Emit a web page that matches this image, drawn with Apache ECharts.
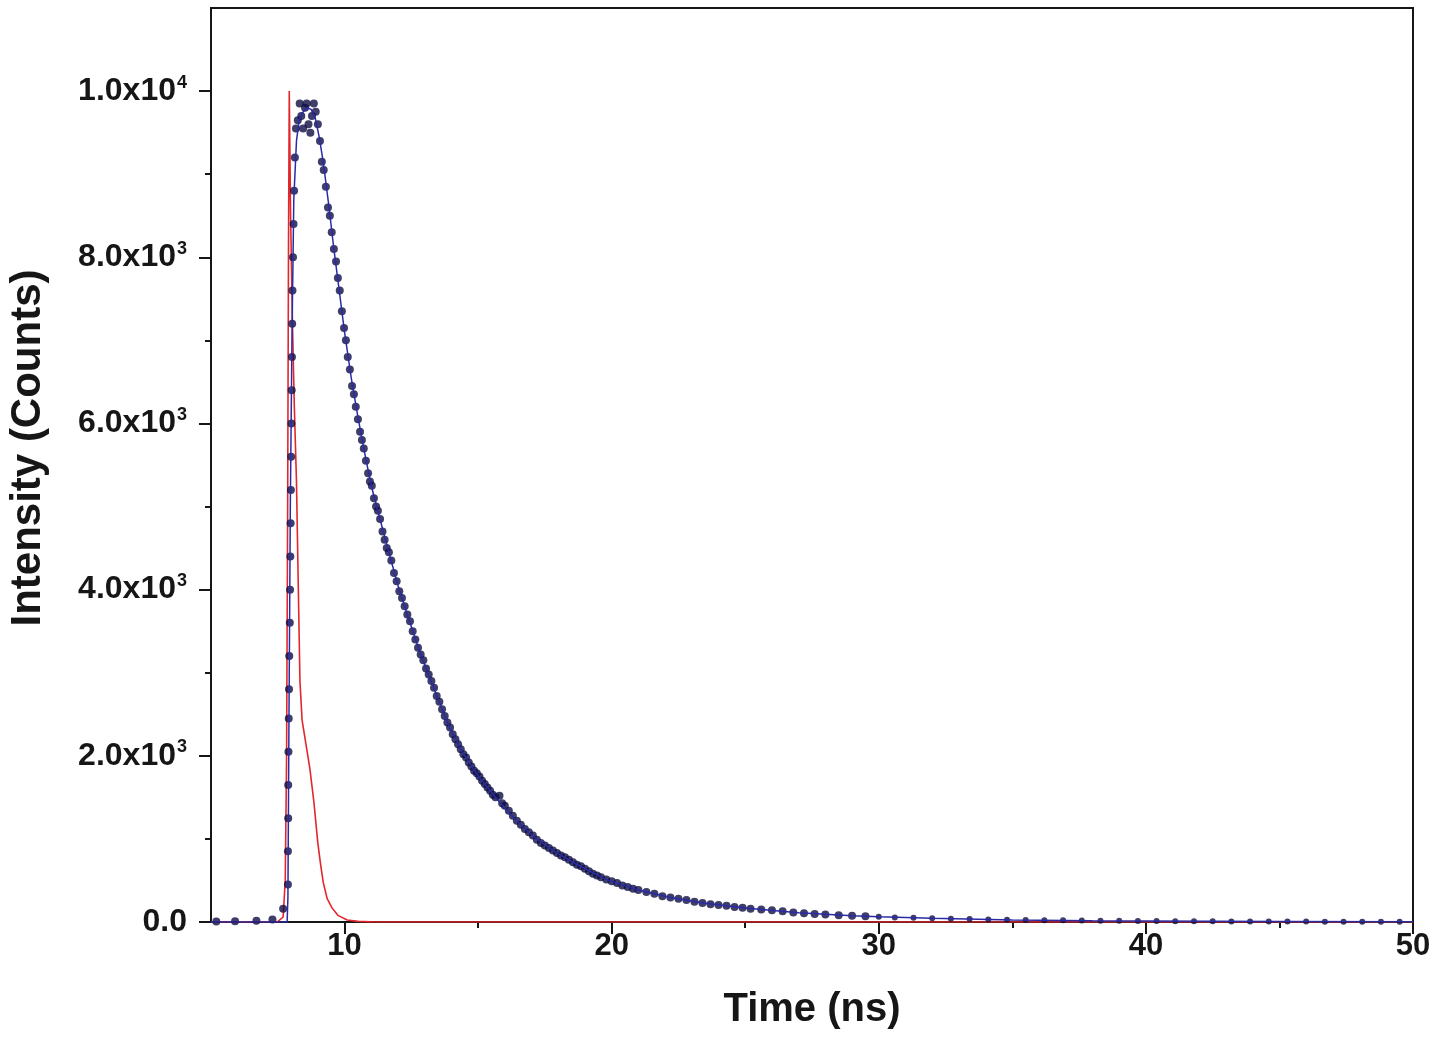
<!DOCTYPE html>
<html>
<head>
<meta charset="utf-8">
<script src="https://cdn.jsdelivr.net/npm/echarts@6/dist/echarts.min.js"></script>
<style>
  html, body { margin: 0; padding: 0; background: #fff; }
  #decay { width: 1437px; height: 1040px; }
</style>
</head>
<body>
<div id="decay"></div>
<script>
// measured decay (dots)
var dotTime = [5.2, 5.9, 6.7, 7.3, 7.7,
  7.88, 7.88, 7.89, 7.89, 7.9, 7.91, 7.92, 7.93, 7.95, 7.96, 7.97, 7.98, 7.99, 8.0, 8.01, 8.02, 8.03, 8.04, 8.05, 8.07, 8.09, 8.11, 8.14, 8.18,
  8.25, 8.32, 8.38, 8.45, 8.52, 8.58, 8.65, 8.72, 8.78, 8.85, 8.92, 9.0, 9.08, 9.15, 9.22, 9.3, 9.38, 9.45, 9.52, 9.6,
  9.68, 9.75, 9.82, 9.9, 9.98, 10.05, 10.12, 10.2, 10.28, 10.35, 10.42, 10.5, 10.58, 10.65, 10.72, 10.8, 10.88, 10.95,
  11.02, 11.1, 11.18, 11.25, 11.33, 11.42, 11.5, 11.58, 11.66, 11.75, 11.85, 11.95, 12.05, 12.15, 12.25, 12.35, 12.45,
  12.55, 12.65, 12.75, 12.85, 12.95, 13.05, 13.15, 13.25, 13.35, 13.45, 13.55, 13.65, 13.75, 13.85, 13.95, 14.05, 14.15,
  14.25, 14.35, 14.45, 14.55, 14.65, 14.75, 14.85, 14.95, 15.05, 15.15, 15.25, 15.35, 15.45, 15.55, 15.65, 15.8, 15.9,
  16.0, 16.15, 16.3, 16.45, 16.6, 16.75, 16.9, 17.05, 17.2, 17.35, 17.5, 17.65, 17.8, 17.95, 18.1, 18.25, 18.4, 18.55,
  18.7, 18.85, 19.0, 19.15, 19.3, 19.45, 19.6, 19.8, 20.0, 20.2, 20.4, 20.6, 20.8, 21.0, 21.3, 21.6, 21.9, 22.2, 22.5,
  22.8, 23.1, 23.4, 23.7, 24.0, 24.3, 24.6, 24.9, 25.2, 25.6, 26.0, 26.4, 26.8, 27.2, 27.6, 28.0, 28.5, 29.0, 29.5,
  30.0, 30.6, 31.3, 32.0, 32.7, 33.4, 34.1, 34.8, 35.5, 36.2, 36.9, 37.6, 38.3, 39.0, 39.7, 40.4, 41.1, 41.8, 42.5,
  43.2, 43.9, 44.6, 45.3, 46.0, 46.7, 47.4, 48.1, 48.8, 49.5];
var dotCounts = [5, 10, 15, 30, 160,
  450, 850, 1250, 1650, 2050, 2450, 2800, 3200, 3600, 4000, 4400, 4800, 5200, 5600, 6000, 6400, 6800, 7200, 7600, 8000, 8400, 8800, 9200, 9550,
  9650, 9850, 9700, 9550, 9800, 9850, 9600, 9500, 9700, 9850, 9750, 9600, 9400, 9150, 9050, 8850, 8600, 8500, 8300, 8100,
  7950, 7750, 7600, 7350, 7150, 7000, 6800, 6650, 6450, 6350, 6200, 6050, 5900, 5800, 5700, 5550, 5400, 5300,
  5250, 5100, 5000, 4950, 4850, 4700, 4600, 4500, 4450, 4350, 4200, 4100, 3980, 3900, 3800, 3700, 3620,
  3500, 3400, 3300, 3220, 3150, 3050, 2980, 2900, 2820, 2720, 2650, 2560, 2480, 2400, 2340, 2260, 2200,
  2140, 2080, 2020, 1980, 1920, 1870, 1820, 1790, 1750, 1700, 1660, 1620, 1580, 1530, 1500, 1520, 1430,
  1400, 1340, 1280, 1220, 1170, 1120, 1080, 1040, 990, 950, 920, 890, 860, 830, 800, 780, 750, 720,
  690, 670, 640, 610, 580, 560, 540, 510, 490, 470, 440, 420, 400, 385, 360, 340, 310, 295, 280,
  265, 245, 230, 215, 205, 195, 180, 170, 160, 150, 140, 130, 115, 105, 95, 90, 80, 75, 70,
  62, 55, 50, 45, 40, 35, 30, 28, 25, 22, 20, 18, 16, 14, 12, 11, 10, 9, 8,
  7, 6, 6, 5, 5, 4, 4, 3, 3, 3];

// fitted curve (blue)
var fitTime = [5, 7.5, 7.85, 7.88, 7.92, 7.97, 8.03, 8.1, 8.2, 8.3, 8.45, 8.6, 8.75, 8.9, 9.05, 9.2, 9.4, 9.6, 9.8, 10.0,
  10.25, 10.5, 10.75, 11.0, 11.35, 11.7, 12.0, 12.4, 12.85, 13.3, 13.85, 14.4, 15.0, 15.7, 16.4, 17.0, 17.8, 18.6, 19.8,
  21.0, 22.2, 23.5, 25.1, 27, 29, 30, 32, 35, 38, 40, 45, 50];
var fitCounts = [0, 0, 0, 300, 2500, 5000, 7000, 8700, 9400, 9650, 9750, 9800, 9780, 9680, 9450, 9150, 8650, 8100, 7600, 7100,
  6550, 6080, 5650, 5250, 4820, 4400, 4050, 3650, 3220, 2850, 2400, 2050, 1760, 1480, 1230, 1050, 860, 710, 510,
  385, 295, 225, 165, 110, 75, 62, 45, 25, 15, 11, 5, 3];

// instrument response (red)
var irfTime = [5, 7.5, 7.7, 7.78, 7.83, 7.87, 7.9, 7.93, 7.98, 8.05, 8.12, 8.2, 8.27, 8.33, 8.41, 8.55, 8.7, 8.85, 9.0,
  9.1, 9.2, 9.35, 9.53, 9.75, 10.1, 10.5, 11, 50];
var irfCounts = [0, 5, 60, 500, 2000, 5000, 8000, 10000, 8500, 7200, 6200, 5300, 4000, 2900, 2430, 2150, 1850, 1450, 950,
  700, 480, 280, 170, 80, 25, 8, 2, 0];

var xMajor = [10, 20, 30, 40, 50];
var xMinor = [15, 25, 35, 45];
var yMajor = [0, 2000, 4000, 6000, 8000, 10000];
var yMinor = [1000, 3000, 5000, 7000, 9000];
var yLabels = {0: '0.0', 2000: '2.0x10|3', 4000: '4.0x10|3', 6000: '6.0x10|3', 8000: '8.0x10|3', 10000: '1.0x10|4'};

function zip(a, b) {
  return a.map(function (v, i) { return [v, b[i]]; });
}

var FONT = '"Liberation Sans", Arial, sans-serif';
var INK = '#161616';

var chart = echarts.init(document.getElementById('decay'));
chart.setOption({
  animation: false,
  backgroundColor: '#fff',
  grid: { left: 211, right: 24, top: 8, bottom: 118, show: true, borderColor: INK, borderWidth: 2 },
  xAxis: [
    {
      type: 'value', min: 5, max: 50, position: 'bottom',
      axisLine: { lineStyle: { color: INK, width: 2 } },
      axisTick: { customValues: xMajor, length: 12, lineStyle: { color: INK, width: 2 } },
      axisLabel: { customValues: xMajor, margin: 9, fontSize: 31, fontWeight: 'bold', color: INK, fontFamily: FONT },
      splitLine: { show: false },
      name: 'Time (ns)', nameLocation: 'middle', nameGap: 68,
      nameTextStyle: { fontSize: 40, fontWeight: 'bold', color: INK, fontFamily: FONT }
    },
    {
      type: 'value', min: 5, max: 50, position: 'bottom',
      axisLine: { show: false },
      axisTick: { customValues: xMinor, length: 6, lineStyle: { color: INK, width: 2 } },
      axisLabel: { show: false },
      splitLine: { show: false }
    }
  ],
  yAxis: [
    {
      type: 'value', min: 0, max: 11000, position: 'left',
      axisLine: { show: true, lineStyle: { color: INK, width: 2 } },
      axisTick: { show: true, customValues: yMajor, length: 12, lineStyle: { color: INK, width: 2 } },
      axisLabel: {
        customValues: yMajor, margin: 24, color: INK,
        formatter: function (v) {
          var s = yLabels[v];
          if (s.indexOf('|') < 0) return '{m|' + s + '}';
          var p = s.split('|');
          return '{m|' + p[0] + '}{s|' + p[1] + '}';
        },
        rich: {
          m: { fontSize: 32, fontWeight: 'bold', color: INK, fontFamily: FONT },
          s: { fontSize: 18, fontWeight: 'bold', color: INK, fontFamily: FONT, verticalAlign: 'bottom', padding: [0, 0, 17, 1] }
        }
      },
      splitLine: { show: false }
    },
    {
      type: 'value', min: 0, max: 11000, position: 'left',
      axisLine: { show: false },
      axisTick: { show: true, customValues: yMinor, length: 6, lineStyle: { color: INK, width: 2 } },
      axisLabel: { show: false },
      splitLine: { show: false }
    }
  ],
  graphic: [{
    type: 'text', x: 28, y: 448, rotation: Math.PI / 2,
    style: {
      text: 'Intensity (Counts)', fill: INK,
      font: 'bold 42px ' + FONT,
      textAlign: 'center', textVerticalAlign: 'middle', align: 'center', verticalAlign: 'middle'
    }
  }],
  series: [
    {
      name: 'IRF', type: 'line', data: zip(irfTime, irfCounts), showSymbol: false, z: 2,
      lineStyle: { color: '#e3262b', width: 1.6 }
    },
    {
      name: 'Decay', type: 'scatter', data: zip(dotTime, dotCounts), symbol: 'circle', z: 3,
      symbolSize: function (d) { return d[0] < 30 ? 8 : 6; },
      itemStyle: { color: '#0e0e42' }
    },
    {
      name: 'Fit', type: 'line', data: zip(fitTime, fitCounts), showSymbol: false, z: 4,
      lineStyle: { color: '#2a2aa6', width: 1.5 }
    }
  ]
});
</script>
</body>
</html>
